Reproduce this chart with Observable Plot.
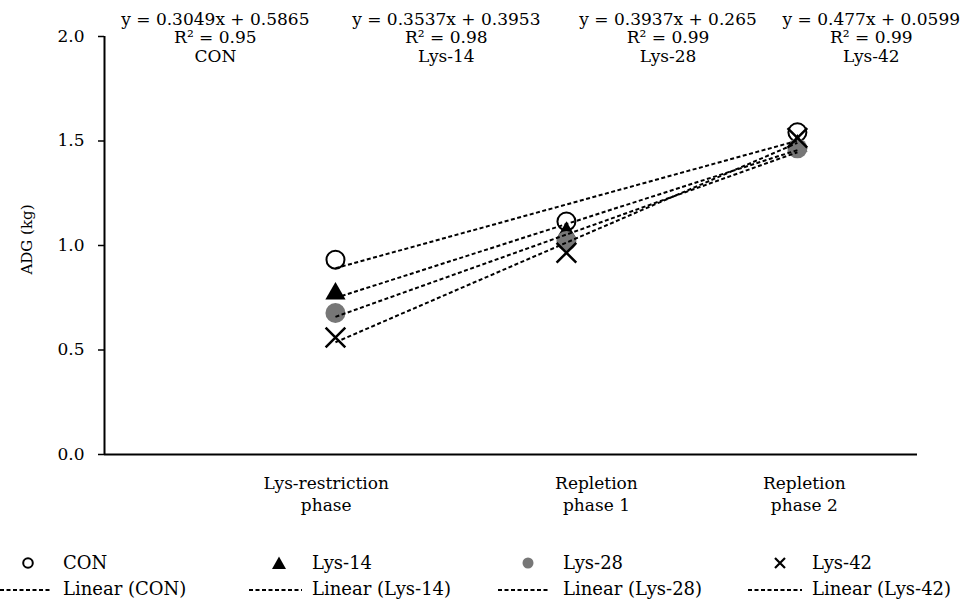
<!DOCTYPE html>
<html><head><meta charset="utf-8">
<script src="https://cdn.jsdelivr.net/npm/d3@7"></script>
<script src="https://cdn.jsdelivr.net/npm/@observablehq/plot@0.6"></script>
<style>
body{margin:0;background:#fff;font-family:'DejaVu Serif',serif;color:#000;}
#chart{position:relative;width:966px;height:603px;overflow:hidden;}
#chart > svg{display:block;}
#legend text{font-family:'DejaVu Serif',serif;font-size:18px;fill:#000;}
</style></head><body><div id="chart"></div>
<script>
// ---- data ----
const phases = ["Lys-restriction\nphase", "Repletion\nphase 1", "Repletion\nphase 2"];
const phaseX = [1, 2, 3];
const series = ["CON", "Lys-14", "Lys-28", "Lys-42"];
const conADG = [0.932, 1.115, 1.542];
const lys14ADG = [0.770, 1.060, 1.478];
const lys28ADG = [0.677, 1.022, 1.465];
const lys42ADG = [0.560, 0.965, 1.515];
const slopes = [0.3049, 0.3537, 0.3937, 0.477];
const intercepts = [0.5865, 0.3953, 0.265, 0.0599];
const r2Labels = ["0.95", "0.98", "0.99", "0.99"];
const yTicks = [0, 0.5, 1.0, 1.5, 2.0];
// layout: label anchor positions on the x scale
const eqLabelX = [0.48, 1.48, 2.44, 3.32];
const phaseLabelX = [0.96, 2.13, 3.03];

const FONT = "'DejaVu Serif', serif";
const GRAY = "#777777";
const values = [conADG, lys14ADG, lys28ADG, lys42ADG];
const styles = [
  {symbol: "circle", fill: "white", stroke: "black", r: 9, strokeWidth: 2},
  {symbol: "triangle", fill: "black", stroke: "none", r: 7.5, strokeWidth: 0},
  {symbol: "circle", fill: GRAY, stroke: "none", r: 10, strokeWidth: 0},
  {symbol: "times", fill: "none", stroke: "black", r: 9, strokeWidth: 2.5}
];

const pointsBySeries = values.map((vals, i) => vals.map((v, j) => ({series: series[i], x: phaseX[j], y: v})));
const trend = series.map((s, i) => ({
  series: s,
  x1: phaseX[0], x2: phaseX[phaseX.length - 1],
  y1: slopes[i] * phaseX[0] + intercepts[i],
  y2: slopes[i] * phaseX[phaseX.length - 1] + intercepts[i]
}));
const eqLabels = series.map((s, i) => ({x: eqLabelX[i], text: `y = ${slopes[i]}x + ${intercepts[i]}\nR² = ${r2Labels[i]}\n${s}`}));

const plot = Plot.plot({
  width: 966, height: 546,
  marginLeft: 104, marginRight: 49, marginTop: 36, marginBottom: 92,
  style: {fontFamily: FONT, fontSize: "17px", background: "white", color: "black", overflow: "visible"},
  x: {domain: [0, 3.52], axis: null},
  y: {domain: [0, 2], axis: null},
  marks: [
    Plot.axisY({ticks: yTicks, tickSize: 6, tickPadding: 14, tickFormat: d3.format(".1f"), label: null, fontSize: 17, strokeWidth: 1.5, fill: "black", stroke: "black"}),
    Plot.text(["ADG (kg)"], {frameAnchor: "left", textAnchor: "middle", rotate: -90, dx: -77, dy: -6, fontSize: 15, fill: "black"}),
    Plot.text(phases, {x: (d, i) => phaseLabelX[i], y: () => 0, dy: 38, lineAnchor: "middle", lineHeight: 1.3, fontSize: 17, fill: "black"}),
    ...pointsBySeries.map((pts, i) => Plot.dot(pts, {x: "x", y: "y", ...styles[i]})),
    Plot.link(trend, {x1: "x1", y1: "y1", x2: "x2", y2: "y2", stroke: "black", strokeWidth: 2, strokeDasharray: "4,2.5"}),
    Plot.ruleX([0], {stroke: "black", strokeWidth: 2}),
    Plot.ruleY([0], {stroke: "black", strokeWidth: 2}),
    Plot.text(eqLabels, {x: "x", text: "text", frameAnchor: "top", lineAnchor: "middle", lineHeight: 1.09, dy: 1, fontSize: 17, fill: "black"})
  ]
});
const chart = document.getElementById("chart");
chart.appendChild(plot);

// ---- legend (below the plot) ----
const symX = [28, 279, 528, 780];
const textX = [63, 312, 563, 812];
const dashX = [[0, 52], [249, 302], [498, 550], [748, 802]];
const lg = d3.create("svg").attr("id", "legend").attr("width", 966).attr("height", 57)
  .attr("font-family", FONT).attr("font-size", 18).style("display", "block");
series.forEach((s, i) => {
  const st = styles[i];
  const g = lg.append("g").attr("transform", `translate(${symX[i]},17)`);
  if (st.symbol === "circle") {
    g.append("circle").attr("r", i === 0 ? 4.8 : 5.5)
      .attr("fill", st.fill).attr("stroke", st.stroke === "none" ? null : st.stroke).attr("stroke-width", 2);
  } else if (st.symbol === "triangle") {
    g.append("path").attr("d", "M0,-6.5 L7,6 L-7,6 Z").attr("fill", "black");
  } else {
    g.append("path").attr("d", "M-5,-5 L5,5 M5,-5 L-5,5").attr("stroke", "black").attr("stroke-width", 2.2);
  }
  lg.append("text").attr("x", textX[i]).attr("y", 23).text(s);
  lg.append("line").attr("x1", dashX[i][0]).attr("x2", dashX[i][1]).attr("y1", 44).attr("y2", 44)
    .attr("stroke", "black").attr("stroke-width", 2).attr("stroke-dasharray", "4,2.5");
  lg.append("text").attr("x", textX[i]).attr("y", 49).text(`Linear (${s})`);
});
chart.appendChild(lg.node());
</script></body></html>
